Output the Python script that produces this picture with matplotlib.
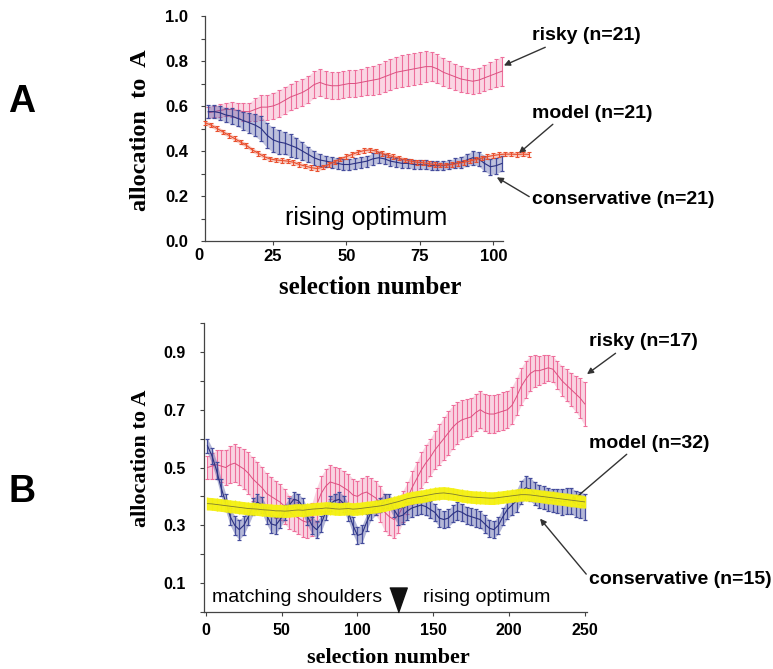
import numpy as np
import matplotlib
matplotlib.use("Agg")
import matplotlib.pyplot as plt

# ---- panel A : rising optimum, 21 subjects per group ----
xa = np.arange(3, 104, 2)
risky_a = [0.570, 0.575, 0.580, 0.585, 0.585, 0.580, 0.575, 0.575, 0.585, 0.595,
           0.595, 0.600, 0.610, 0.625, 0.640, 0.650, 0.660, 0.675, 0.695, 0.705,
           0.695, 0.690, 0.690, 0.695, 0.700, 0.700, 0.705, 0.710, 0.715, 0.720,
           0.730, 0.740, 0.750, 0.755, 0.760, 0.765, 0.770, 0.775, 0.775, 0.765,
           0.750, 0.740, 0.730, 0.720, 0.715, 0.710, 0.715, 0.725, 0.735, 0.745,
           0.755]
risky_a_se = [0.025, 0.025, 0.030, 0.030, 0.035, 0.035, 0.040, 0.040, 0.050, 0.055,
              0.055, 0.060, 0.060, 0.060, 0.060, 0.060, 0.060, 0.060, 0.060, 0.060,
              0.060, 0.060, 0.060, 0.060, 0.060, 0.060, 0.060, 0.062, 0.064, 0.066,
              0.068, 0.070, 0.070, 0.070, 0.070, 0.070, 0.070, 0.068, 0.066, 0.064,
              0.062, 0.060, 0.058, 0.058, 0.056, 0.056, 0.056, 0.058, 0.060, 0.062,
              0.065]
cons_a = [0.575, 0.575, 0.570, 0.560, 0.555, 0.545, 0.535, 0.525, 0.515, 0.500,
          0.470, 0.450, 0.440, 0.435, 0.425, 0.415, 0.400, 0.385, 0.370, 0.360,
          0.355, 0.350, 0.345, 0.340, 0.340, 0.345, 0.350, 0.355, 0.365, 0.370,
          0.365, 0.355, 0.350, 0.345, 0.345, 0.340, 0.340, 0.338, 0.335, 0.335,
          0.335, 0.340, 0.345, 0.350, 0.360, 0.370, 0.365, 0.345, 0.330, 0.335,
          0.345]
cons_a_se = [0.030, 0.030, 0.030, 0.032, 0.034, 0.036, 0.040, 0.045, 0.050, 0.055,
             0.055, 0.055, 0.055, 0.050, 0.050, 0.045, 0.040, 0.035, 0.030, 0.028,
             0.025, 0.025, 0.025, 0.025, 0.025, 0.025, 0.025, 0.025, 0.025, 0.025,
             0.022, 0.020, 0.020, 0.020, 0.020, 0.020, 0.020, 0.020, 0.020, 0.020,
             0.020, 0.020, 0.022, 0.025, 0.028, 0.030, 0.032, 0.035, 0.035, 0.035,
             0.035]
xm = np.arange(2, 113, 2)
model_a = [0.525, 0.515, 0.500, 0.485, 0.470, 0.455, 0.440, 0.425, 0.405, 0.390,
           0.375, 0.365, 0.360, 0.358, 0.355, 0.350, 0.340, 0.333, 0.326, 0.322,
           0.328, 0.340, 0.352, 0.365, 0.375, 0.385, 0.395, 0.402, 0.405, 0.400,
           0.390, 0.382, 0.375, 0.368, 0.360, 0.355, 0.350, 0.348, 0.344, 0.340,
           0.338, 0.337, 0.340, 0.345, 0.350, 0.355, 0.362, 0.368, 0.375, 0.380,
           0.384, 0.386, 0.386, 0.385, 0.386, 0.385]
model_a_se = [0.010] * 56

# ---- panel B : matching shoulders then rising optimum ----
xb = np.arange(1, 251, 3)
risky_b = [0.500, 0.505, 0.510, 0.505, 0.500, 0.510, 0.515, 0.505, 0.495, 0.480,
           0.460, 0.445, 0.430, 0.410, 0.400, 0.390, 0.380, 0.365, 0.345, 0.335,
           0.325, 0.315, 0.310, 0.320, 0.370, 0.410, 0.435, 0.450, 0.445, 0.440,
           0.430, 0.420, 0.405, 0.400, 0.410, 0.415, 0.405, 0.395, 0.375, 0.345,
           0.330, 0.320, 0.335, 0.365, 0.395, 0.430, 0.460, 0.490, 0.515, 0.535,
           0.560, 0.580, 0.600, 0.620, 0.640, 0.655, 0.665, 0.670, 0.675, 0.690,
           0.700, 0.690, 0.685, 0.685, 0.690, 0.695, 0.700, 0.715, 0.745, 0.780,
           0.805, 0.825, 0.835, 0.835, 0.840, 0.845, 0.840, 0.820, 0.800, 0.785,
           0.770, 0.755, 0.740, 0.720]
risky_b_se = [0.040, 0.045, 0.050, 0.055, 0.060, 0.065, 0.065, 0.065, 0.070, 0.072,
              0.075, 0.075, 0.072, 0.070, 0.068, 0.065, 0.062, 0.060, 0.058, 0.056,
              0.055, 0.055, 0.055, 0.058, 0.060, 0.060, 0.060, 0.058, 0.058, 0.058,
              0.058, 0.058, 0.056, 0.055, 0.055, 0.055, 0.058, 0.060, 0.062, 0.065,
              0.065, 0.065, 0.060, 0.055, 0.055, 0.058, 0.060, 0.062, 0.064, 0.065,
              0.066, 0.070, 0.074, 0.077, 0.075, 0.072, 0.068, 0.066, 0.065, 0.065,
              0.065, 0.065, 0.065, 0.065, 0.065, 0.065, 0.065, 0.065, 0.065, 0.065,
              0.065, 0.060, 0.055, 0.050, 0.048, 0.045, 0.045, 0.048, 0.052, 0.055,
              0.058, 0.062, 0.068, 0.075]
cons_b = [0.575, 0.540, 0.490, 0.430, 0.380, 0.330, 0.300, 0.285, 0.300, 0.330,
          0.365, 0.380, 0.370, 0.335, 0.305, 0.300, 0.320, 0.345, 0.370, 0.390,
          0.385, 0.365, 0.330, 0.300, 0.285, 0.305, 0.345, 0.375, 0.385, 0.390,
          0.375, 0.345, 0.300, 0.265, 0.270, 0.310, 0.345, 0.360, 0.370, 0.385,
          0.385, 0.355, 0.330, 0.335, 0.350, 0.360, 0.365, 0.370, 0.365, 0.355,
          0.345, 0.325, 0.320, 0.325, 0.340, 0.350, 0.345, 0.335, 0.330, 0.325,
          0.320, 0.305, 0.290, 0.285, 0.300, 0.330, 0.355, 0.370, 0.385, 0.415,
          0.430, 0.425, 0.410, 0.400, 0.395, 0.390, 0.385, 0.385, 0.380, 0.385,
          0.385, 0.375, 0.370, 0.365]
cons_b_se = [0.025, 0.028, 0.030, 0.030, 0.030, 0.030, 0.032, 0.035, 0.032, 0.030,
             0.028, 0.028, 0.028, 0.030, 0.030, 0.030, 0.028, 0.026, 0.025, 0.025,
             0.025, 0.028, 0.030, 0.030, 0.030, 0.028, 0.026, 0.025, 0.025, 0.025,
             0.028, 0.030, 0.030, 0.030, 0.030, 0.028, 0.026, 0.025, 0.025, 0.025,
             0.025, 0.028, 0.030, 0.030, 0.030, 0.030, 0.030, 0.030, 0.030, 0.030,
             0.030, 0.030, 0.030, 0.030, 0.030, 0.030, 0.030, 0.030, 0.030, 0.030,
             0.030, 0.030, 0.030, 0.030, 0.030, 0.030, 0.032, 0.035, 0.038, 0.040,
             0.040, 0.040, 0.040, 0.040, 0.040, 0.040, 0.040, 0.042, 0.044, 0.045,
             0.045, 0.045, 0.045, 0.045]
model_b = [0.375, 0.374, 0.372, 0.370, 0.368, 0.366, 0.364, 0.362, 0.360, 0.358,
           0.357, 0.356, 0.354, 0.353, 0.352, 0.350, 0.350, 0.349, 0.350, 0.352,
           0.353, 0.352, 0.354, 0.356, 0.357, 0.358, 0.360, 0.359, 0.357, 0.356,
           0.357, 0.358, 0.356, 0.357, 0.359, 0.361, 0.363, 0.365, 0.367, 0.370,
           0.374, 0.378, 0.382, 0.387, 0.392, 0.395, 0.398, 0.400, 0.403, 0.406,
           0.409, 0.411, 0.412, 0.410, 0.408, 0.405, 0.402, 0.400, 0.398, 0.397,
           0.396, 0.395, 0.394, 0.394, 0.396, 0.398, 0.400, 0.402, 0.404, 0.406,
           0.406, 0.405, 0.403, 0.401, 0.399, 0.397, 0.395, 0.393, 0.391, 0.389,
           0.387, 0.385, 0.383, 0.381]
model_b_se = [0.022] * 84
switch_at = 127

PINK, PINK_LINE = "#ee6f9c", "#dc4f80"
BLUE, BLUE_LINE = "#444c9c", "#2b3181"
RED = "#e9502f"
YELLOW, YELLOW_LINE = "#f4f010", "#7d7b30"


def band(ax, x, m, se, col, line_col, elw, cap, lw, z, shade=0.25):
    m = np.asarray(m)
    se = np.asarray(se)
    if shade:
        sh = ax.fill_between(x, m - se, m + se, color=col, alpha=shade, lw=0,
                             zorder=z - 0.5)
        sh.set_clip_on(False)
    c = ax.errorbar(x, m, yerr=se, fmt="-", color=line_col, ecolor=col,
                    elinewidth=elw, capsize=cap, capthick=elw, lw=lw, zorder=z)
    for art in c.get_children():
        art.set_clip_on(False)


def style(ax, tick_size):
    for s in ("top", "right"):
        ax.spines[s].set_visible(False)
    for s in ("left", "bottom"):
        ax.spines[s].set_color("#444444")
        ax.spines[s].set_linewidth(0.9)
    ax.tick_params(direction="out", length=3, width=0.8, color="#444444",
                   labelsize=tick_size)
    for lab in ax.get_xticklabels() + ax.get_yticklabels():
        lab.set_fontweight("bold")
        lab.set_family("Liberation Sans")


fig = plt.figure(figsize=(7.73, 6.69), dpi=100)
H = 669.0

# ----- A -----
axA = fig.add_axes([205 / 773, 1 - 241 / H, 298 / 773, 225 / H])
band(axA, xa, risky_a, risky_a_se, PINK, PINK_LINE, 0.8, 1.5, 0.7, 2, 0.28)
band(axA, xa, cons_a, cons_a_se, BLUE, BLUE_LINE, 0.9, 1.5, 0.8, 3, 0.35)
band(axA, xm, model_a, model_a_se, RED, RED, 0.8, 1.5, 0.8, 4, 0.3)
axA.set_xlim(1.9, 103.3)
axA.set_ylim(0, 1.0)
axA.set_xticks([25, 50, 75, 100])
axA.set_yticks(np.round(np.arange(0, 1.01, 0.1), 1))
axA.set_yticklabels([f"{v:.1f}" if i % 2 == 0 else "" for i, v in
                     enumerate(np.arange(0, 1.01, 0.1))])
axA.tick_params(axis="y", pad=9)
axA.tick_params(axis="x", pad=3)
style(axA, 12)
axA.annotate("0", xy=(0, 0), xycoords=("data", "axes fraction"),
             xytext=(0, -5), textcoords="offset points", ha="center", va="top",
             fontsize=12, fontweight="bold", family="Liberation Sans",
             annotation_clip=False)
axA.text(0.54, 0.10, "rising optimum", transform=axA.transAxes, ha="center",
         va="center", fontsize=18, family="Liberation Sans")

# ----- B -----
axB = fig.add_axes([204 / 773, 1 - 612 / H, 383 / 773, 289 / H])
band(axB, xb, risky_b, risky_b_se, PINK, PINK_LINE, 0.8, 1.2, 0.7, 2, 0.3)
band(axB, xb, cons_b, cons_b_se, BLUE, BLUE_LINE, 0.9, 1.2, 0.8, 3, 0.4)
band(axB, xb, model_b, model_b_se, YELLOW, YELLOW_LINE, 1.0, 0, 0.6, 4, 0.95)
axB.set_xlim(-1.3, 251.5)
axB.set_ylim(0, 1.0)
axB.set_xticks([0, 50, 100, 150, 200, 250])
axB.set_yticks(np.round(np.arange(0, 1.01, 0.1), 1))
axB.set_yticklabels([f"{v:.1f}" if i % 2 == 1 else "" for i, v in
                     enumerate(np.arange(0, 1.01, 0.1))])
axB.tick_params(axis="y", pad=10)
axB.tick_params(axis="x", pad=5)
style(axB, 11.5)
axB.plot(switch_at, 0.042, marker=[(-0.7, 1), (0.7, 1), (0, -1)],
         markersize=18, color="#111111", clip_on=False, zorder=6)
fig.text(212 / 773, 1 - 597 / H, "matching shoulders", ha="left", va="center",
         fontsize=14, family="Liberation Sans")
fig.text(423 / 773, 1 - 597 / H, "rising optimum", ha="left", va="center",
         fontsize=14, family="Liberation Sans")

# axis titles in serif bold
fig.text(140 / 773, 1 - 130 / H, "allocation  to  A", rotation=90, ha="center",
         va="center", fontsize=17.5, fontweight="bold", family="Liberation Serif")
fig.text(370 / 773, 1 - 287 / H, "selection number", ha="center", va="center",
         fontsize=18, fontweight="bold", family="Liberation Serif")
fig.text(141 / 773, 1 - 458 / H, "allocation to A", rotation=90, ha="center",
         va="center", fontsize=16, fontweight="bold", family="Liberation Serif")
fig.text(388 / 773, 1 - 658 / H, "selection number", ha="center", va="center",
         fontsize=16, fontweight="bold", family="Liberation Serif")

# panel letters
fig.text(22 / 773, 1 - 102 / H, "A", ha="center", va="center", fontsize=27,
         fontweight="bold", family="Liberation Sans")
fig.text(22 / 773, 1 - 492 / H, "B", ha="center", va="center", fontsize=27,
         fontweight="bold", family="Liberation Sans")

# group labels with arrows
arrow = dict(arrowstyle="-|>", color="#333333", lw=1.0, mutation_scale=9,
             shrinkA=0, shrinkB=0)


def callout(ax, text, xy, txt_px, rel):
    ax.annotate(text, xy=xy, xycoords="data",
                xytext=(txt_px[0], H - txt_px[1]), textcoords="figure pixels",
                ha="left", va="center", fontsize=14, fontweight="bold",
                family="Liberation Sans", annotation_clip=False,
                arrowprops=dict(arrow, relpos=rel))


callout(axA, "risky (n=21)", (103.6, 0.78), (532, 36), (0.18, 0.0))
callout(axA, "model (n=21)", (108.7, 0.39), (532, 113), (0.2, 0.0))
callout(axA, "conservative (n=21)", (101.2, 0.283), (532, 200), (0.0, 0.6))
callout(axB, "risky (n=17)", (251.5, 0.823), (589, 342), (0.3, 0.1))
callout(axB, "model (n=32)", (240.3, 0.378), (589, 443), (0.34, 0.0))
callout(axB, "conservative (n=15)", (220.5, 0.323), (589, 580), (0.0, 0.65))

fig.savefig("out.png", dpi=100)
